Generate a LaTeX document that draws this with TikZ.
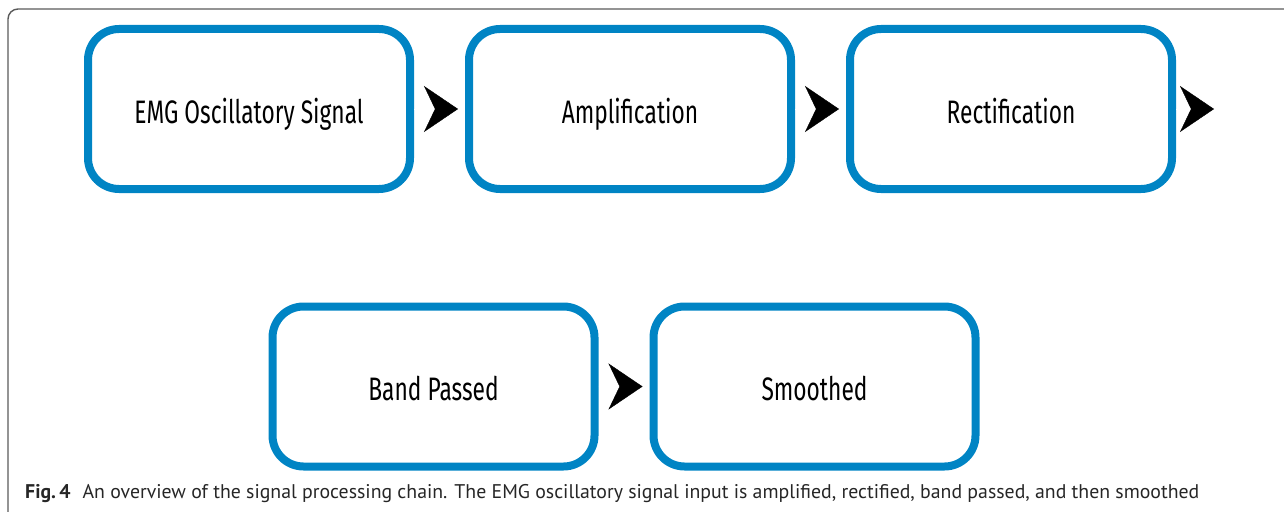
\documentclass[tikz,border=0pt]{standalone}
\usepackage{fontspec}
\setmainfont{PT Sans}
\newfontfamily\stagefont[FakeStretch=0.70]{Fira Sans}
\usepackage{tikz}
\usetikzlibrary{arrows.meta}
\definecolor{stageblue}{RGB}{0,132,196}
\definecolor{framegray}{RGB}{90,90,90}

\begin{document}
\begin{tikzpicture}[x=1pt, y=-1pt, node distance=381pt,
    >={Stealth[length=34pt,width=46pt,inset=11pt,color=black,fill=black]}]
    \tikzstyle{stage}=[rectangle,draw=stageblue,line width=8pt,rounded corners=31pt,align=center,minimum width=322pt,minimum height=160pt,text height=28.6pt,text depth=0pt,font=\stagefont\fontsize{32.5}{38}\selectfont]
    \tikzstyle{link}=[white,->,shorten >=7pt]
    \useasboundingbox (0,0) rectangle (1284,511);
    \draw[framegray,line width=1.4pt,rounded corners=10pt] (1300,9) -- (8,9) -- (8,530);
    \node[stage] (emg) at (249,109) {EMG Oscillatory Signal};
    \node[stage,right of=emg] (amp) {Amplification};
    \node[stage,right of=amp] (rect) {Rectification};
    \node[stage,below of=emg,node distance=277.5pt,xshift=184.5pt] (band) {Band Passed};
    \node[stage,right of=band] (smooth) {Smoothed};
    \coordinate (out) at ([xshift=45pt]rect.east);
    \draw[link] (emg.east) -- (amp.west);
    \draw[link] (amp.east) -- (rect.west);
    \draw[link] (rect.east) -- (out);
    \draw[link] (band.east) -- (smooth.west);
    \node[anchor=base west,inner sep=0pt,font=\fontsize{19.8}{24}\selectfont,text=black!85] (caption) at (25,498.5)
      {\textbf{Fig.\,4}\hspace{12pt}An overview of the signal processing chain. The EMG oscillatory signal input is amplified, rectified, band passed, and then smoothed};
  \end{tikzpicture}
\end{document}
